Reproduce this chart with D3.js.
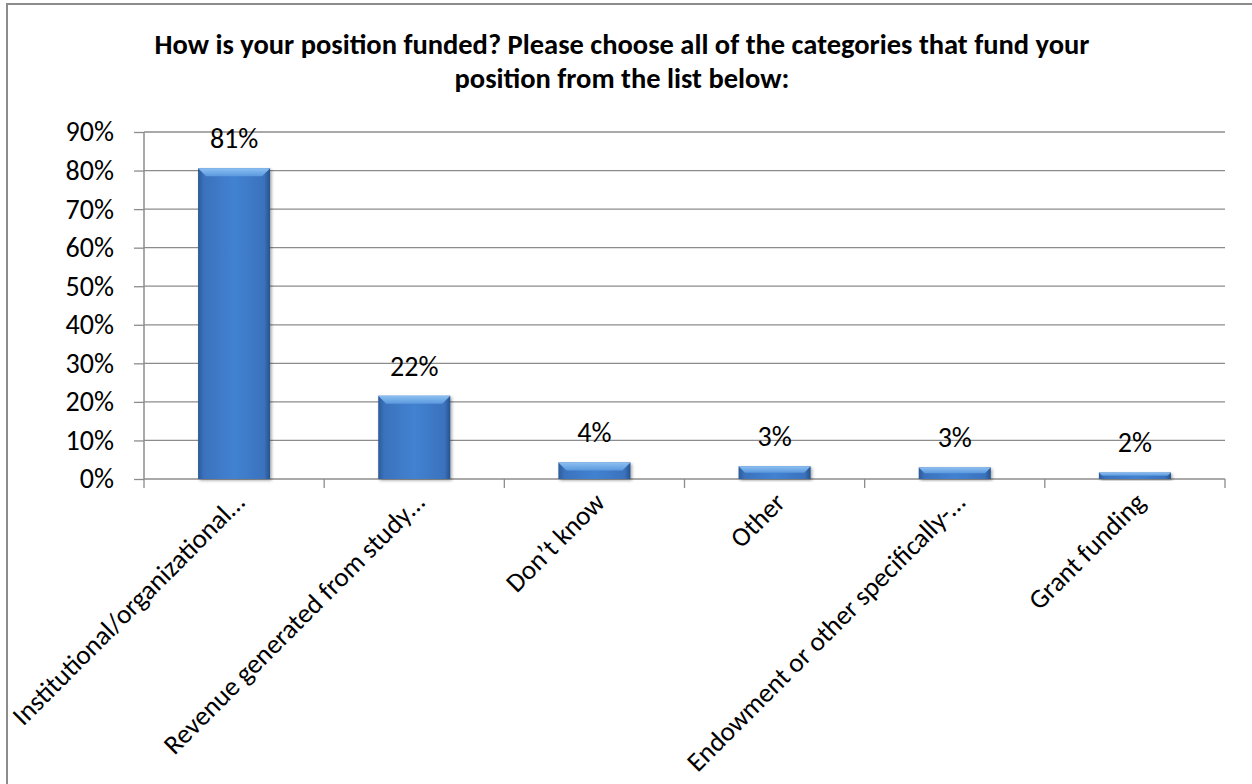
<!DOCTYPE html>
<html><head><meta charset="utf-8">
<script src="https://cdn.jsdelivr.net/npm/d3@7"></script>
<style>html,body{margin:0;padding:0;background:#fff;}svg{display:block;}</style>
</head><body>
<script>
const categories = ["Institutional/organizational…","Revenue generated from study…","Don’t know","Other","Endowment or other specifically-…","Grant funding"];
const values = [0.806, 0.216, 0.043, 0.033, 0.030, 0.017];
const yTicks = [0,0.1,0.2,0.3,0.4,0.5,0.6,0.7,0.8,0.9];
const titleLines = ["How is your position funded? Please choose all of the categories that fund your","position from the list below:"];

const W=1252,H=784;
const font = "Carlito, Calibri, Lato, 'Open Sans', sans-serif";
const svg = d3.select("body").append("svg").attr("width",W).attr("height",H);
const m = {left:144,right:1225,top:132,bottom:479};

svg.append("rect").attr("x",7).attr("y",4).attr("width",1260).attr("height",800)
  .attr("fill","#fff").attr("stroke","#8c8c8c").attr("stroke-width",2);

const defs = svg.append("defs");
const g1 = defs.append("linearGradient").attr("id","barg").attr("x1","0").attr("x2","1").attr("y1","0").attr("y2","0");
[[0,"#2c5a97"],[0.08,"#3a72bd"],[0.5,"#4282d1"],[0.92,"#3a72bd"],[1,"#27528a"]].forEach(([o,c])=>g1.append("stop").attr("offset",o).attr("stop-color",c));
const g2 = defs.append("linearGradient").attr("id","bevel").attr("x1","0").attr("x2","0").attr("y1","0").attr("y2","1");
[[0,"#8cc0f2"],[1,"#5b98dd"]].forEach(([o,c])=>g2.append("stop").attr("offset",o).attr("stop-color",c));
const f = defs.append("filter").attr("id","sh").attr("x","-20%").attr("y","-20%").attr("width","140%").attr("height","140%");
f.append("feDropShadow").attr("dx",1.5).attr("dy",1.5).attr("stdDeviation",1.5).attr("flood-color","#000").attr("flood-opacity",0.35);

const x = d3.scaleBand().domain(categories).range([m.left,m.right]).paddingInner(0.6).paddingOuter(0.3);
const xb = d3.scaleBand().domain(categories).range([m.left,m.right]);
const y = d3.scaleLinear().domain([0,0.9]).range([m.bottom,m.top]);

// gridlines
svg.append("g").selectAll("line").data(yTicks.filter(d=>d>0)).join("line")
  .attr("x1",m.left).attr("x2",m.right).attr("y1",d=>y(d)).attr("y2",d=>y(d))
  .attr("stroke","#8c8c8c").attr("stroke-width",1.3);

// y axis
const ya = svg.append("g").attr("transform",`translate(${m.left},0)`)
  .call(d3.axisLeft(y).tickValues(yTicks).tickFormat(d3.format(".0%")).tickSize(10).tickPadding(20));
ya.select(".domain").attr("stroke","#8c8c8c").attr("stroke-width",1.5).attr("d",`M-0,${m.top}V${m.bottom}`);
ya.selectAll(".tick line").attr("stroke","#8c8c8c").attr("stroke-width",1.3);
ya.selectAll("text").attr("font-family",font).attr("font-size",28).attr("fill","#000");

// x axis
svg.append("line").attr("x1",m.left).attr("x2",m.right).attr("y1",y(0)).attr("y2",y(0))
  .attr("stroke","#8c8c8c").attr("stroke-width",1.5);
svg.append("g").selectAll("line").data(categories.map((c,i)=>i).concat([categories.length])).join("line")
  .attr("x1",i=>i<categories.length?xb(categories[i]):m.right).attr("x2",i=>i<categories.length?xb(categories[i]):m.right)
  .attr("y1",y(0)).attr("y2",y(0)+9).attr("stroke","#8c8c8c").attr("stroke-width",1.3);

// bars
const bars = svg.append("g").selectAll("g").data(categories).join("g");
bars.append("rect").attr("x",d=>x(d)).attr("y",(d,i)=>y(values[i])).attr("width",x.bandwidth())
  .attr("height",(d,i)=>y(0)-y(values[i])).attr("fill","url(#barg)").attr("filter","url(#sh)");
bars.append("path").attr("d",(d,i)=>{
  const x0=x(d),x1=x(d)+x.bandwidth(),t=y(values[i]),h=Math.min(8,(y(0)-t)/2),ins=Math.min(8,h);
  return `M${x0},${t}L${x1},${t}L${x1-ins},${t+h}L${x0+ins},${t+h}Z`;
}).attr("fill","url(#bevel)");

// value labels
svg.append("g").selectAll("text").data(categories).join("text")
  .attr("x",d=>x(d)+x.bandwidth()/2).attr("y",(d,i)=>y(values[i])-20)
  .attr("text-anchor","middle").attr("font-family",font).attr("font-size",28).attr("fill","#000")
  .text((d,i)=>d3.format(".0%")(values[i]));

// category labels
svg.append("g").selectAll("text").data(categories).join("text")
  .attr("transform",d=>`translate(${xb(d)+xb.bandwidth()/2+12},${y(0)+25}) rotate(-45)`)
  .attr("text-anchor","end").attr("font-family",font).attr("font-size",27).attr("fill","#000")
  .text(d=>d);

// title
svg.append("g").selectAll("text").data(titleLines).join("text")
  .attr("x",622).attr("y",(d,i)=>54+i*34).attr("text-anchor","middle")
  .attr("font-family",font).attr("font-size",28.5).attr("font-weight","bold").attr("fill","#000").text(d=>d);
</script>
</body></html>
